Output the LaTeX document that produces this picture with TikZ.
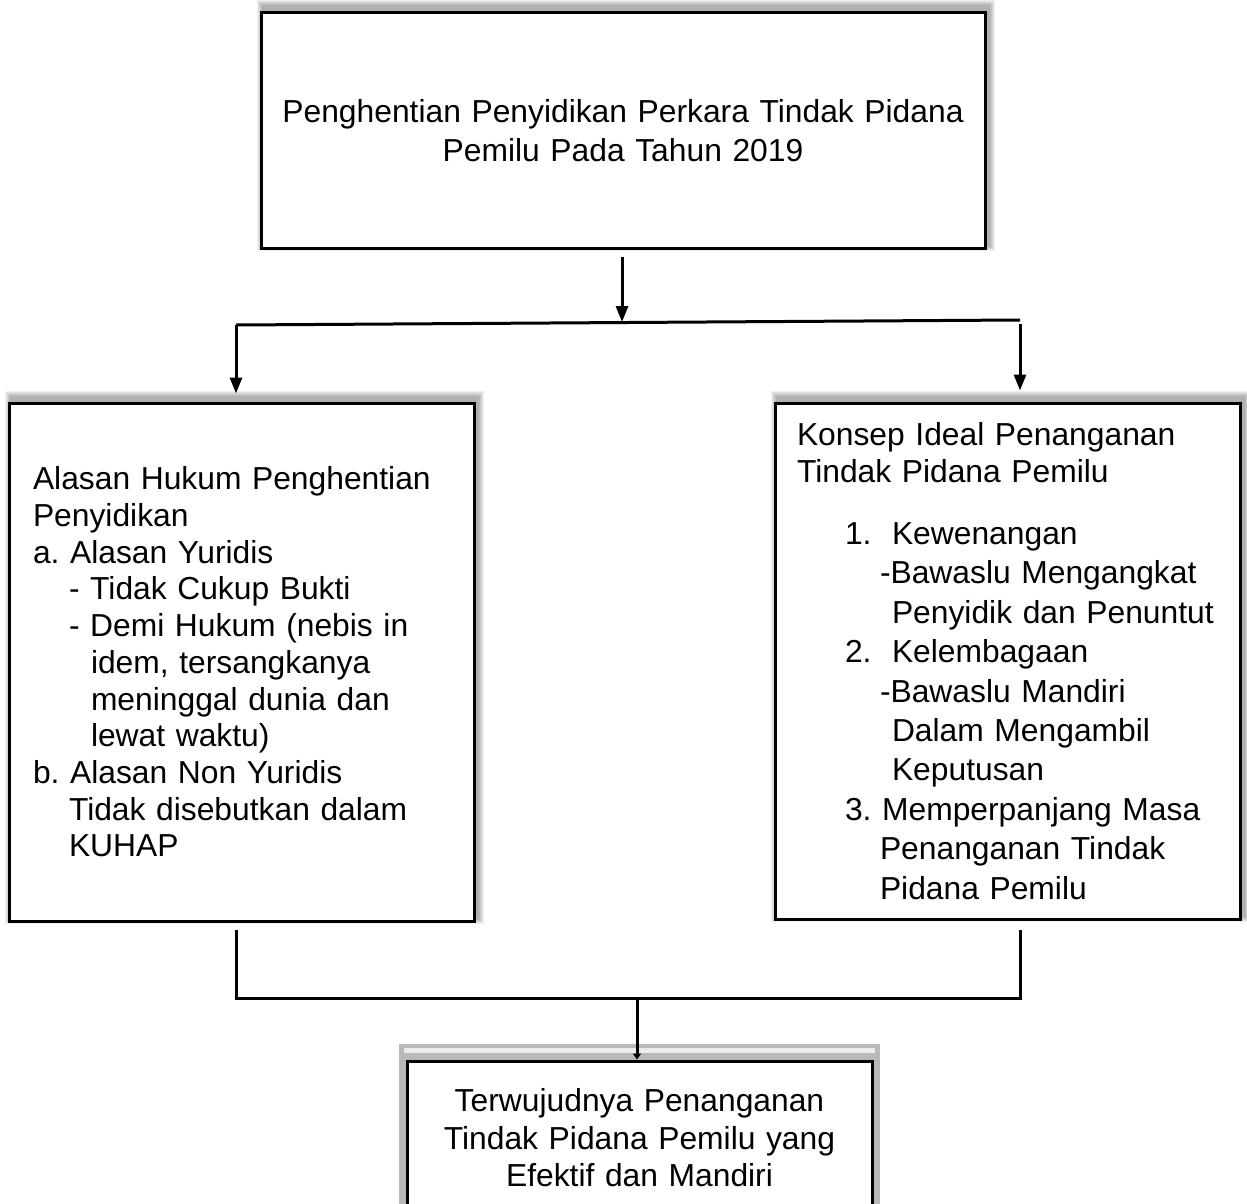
\documentclass[tikz,border=0pt]{standalone}
\usepackage{fontspec}
\setmainfont{Liberation Sans}
\usetikzlibrary{arrows.meta,backgrounds}
\frenchspacing

\begin{document}
\begin{tikzpicture}[x=0.5pt,y=-0.5pt,
  box/.style={draw,line width=1.5pt,fill=white,inner sep=0pt},
  arr/.style={line width=1.5pt,-{Triangle[length=8pt,width=6pt]}},
  link/.style={line width=1.5pt}]
\useasboundingbox (0,0) rectangle (1247,1204);
% Top box
\node[box,minimum width=362pt,minimum height=117.5pt,text width=358pt,align=center,
  font=\fontsize{15.9}{19.5}\selectfont] (penghentian) at (623,130.5)
  {Penghentian Penyidikan Perkara Tindak Pidana\\Pemilu Pada Tahun 2019};
% Left box
\node[box,minimum width=232.5pt,minimum height=259pt,text width=208.5pt,align=left,
  font=\fontsize{15.9}{18.35}\selectfont] (alasan) at (241.5,662)
  {Alasan Hukum Penghentian\\
   Penyidikan\\
   a. Alasan Yuridis\\
   \hspace*{18pt}- Tidak Cukup Bukti\\
   \hspace*{18pt}- Demi Hukum (nebis in\\
   \hspace*{29pt}idem, tersangkanya\\
   \hspace*{29pt}meninggal dunia dan\\
   \hspace*{29pt}lewat waktu)\\
   b. Alasan Non Yuridis\\
   \hspace*{18pt}Tidak disebutkan dalam\\
   \hspace*{18pt}KUHAP};
% Right box
\node[box,minimum width=232.5pt,minimum height=258pt,text width=210.5pt,align=left,
  font=\fontsize{15.9}{19.7}\selectfont] (konsep) at (1007.5,661)
  {Konsep Ideal Penanganan\\[-1.2pt]
   Tindak Pidana Pemilu\\[11.3pt]
   \hspace*{24pt}\rlap{1.}\hspace*{23.5pt}Kewenangan\\
   \hspace*{41.5pt}-Bawaslu Mengangkat\\
   \hspace*{47.5pt}Penyidik dan Penuntut\\
   \hspace*{24pt}\rlap{2.}\hspace*{23.5pt}Kelembagaan\\
   \hspace*{41.5pt}-Bawaslu Mandiri\\
   \hspace*{47.5pt}Dalam Mengambil\\
   \hspace*{47.5pt}Keputusan\\
   \hspace*{24pt}3. Memperpanjang Masa\\
   \hspace*{41.5pt}Penanganan Tindak\\
   \hspace*{41.5pt}Pidana Pemilu};
% Bottom box with grey frame
\fill[gray!55] (399,1044) rectangle (880,1230);
\fill[gray!15] (404,1048) rectangle (875,1053);
\node[box,minimum width=232.5pt,minimum height=77pt,text width=220pt,align=center,
  font=\fontsize{15.9}{18.75}\selectfont] (hasil) at (639.5,1138)
  {Terwujudnya Penanganan\\Tindak Pidana Pemilu yang\\Efektif dan Mandiri};
% Shadows
\begin{pgfonlayer}{background}
\foreach \nd in {penghentian,alasan,konsep}
  \foreach \s in {1,...,6}
    \fill[black,opacity=0.06] ([shift={(3-\s,-5+\s)}]\nd.south west)
      rectangle ([shift={(2+\s,-5-\s)}]\nd.north east);
\end{pgfonlayer}
% Branch
\coordinate (busL) at (236,325);
\coordinate (busR) at (1020,320);
\coordinate (busM) at (622,322);
\draw[arr] ([yshift=-3.5pt]penghentian.south -| busM) -- (busM);
\draw[link] (busL) -- (busR);
\draw[arr] (busL) -- ([yshift=4pt]busL |- alasan.north);
\draw[arr] ([yshift=-2pt]busR) -- ([yshift=5.5pt]busR |- konsep.north);
% Join
\coordinate (joinL) at (236,998);
\coordinate (joinR) at (1020,998);
\coordinate (joinM) at (637,998);
\draw[link] ([yshift=-3.5pt]alasan.south -| joinL) -- (joinL) -- (joinR)
  -- ([yshift=-4.5pt]konsep.south -| joinR);
\draw[line width=1.5pt,-{Triangle[length=3pt,width=4pt]}] (joinM) -- (joinM |- hasil.north);
\end{tikzpicture}
\end{document}
